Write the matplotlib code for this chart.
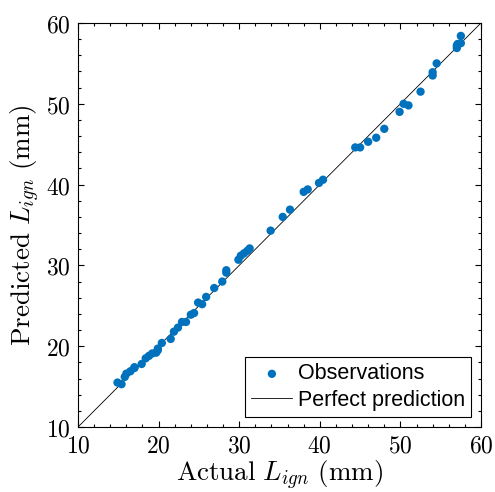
import numpy as np
import matplotlib
matplotlib.use('Agg')
import matplotlib.pyplot as plt
from matplotlib.ticker import MultipleLocator

plt.rcParams['mathtext.fontset'] = 'cm'

# actual vs predicted ignition length (mm)
actual = [14.9, 15.4, 15.8, 16.0, 16.5, 17.0, 17.0, 17.9, 18.4, 18.8, 19.2, 19.7,
          19.9, 19.9, 20.4, 21.5, 21.9, 22.4, 22.9, 23.4, 24.0, 24.4, 24.9, 25.4,
          25.9, 26.9, 27.9, 28.4, 28.4, 29.9, 30.2, 30.6, 31.0, 31.3, 33.9, 35.4,
          36.3, 38.0, 38.5, 39.9, 40.4, 44.4, 45.0, 46.0, 47.0, 48.0, 49.9, 50.4,
          51.0, 52.5, 54.0, 54.0, 54.5, 57.0, 57.0, 57.1, 57.5, 57.5]
predicted = [15.5, 15.3, 16.2, 16.6, 16.9, 17.3, 17.4, 17.8, 18.5, 18.8, 19.1, 19.2,
             19.7, 19.5, 20.4, 20.9, 21.8, 22.3, 23.0, 23.0, 23.9, 24.1, 25.4, 25.2,
             26.1, 27.2, 28.0, 29.1, 29.4, 30.7, 31.2, 31.5, 31.8, 32.1, 34.3, 36.0,
             36.9, 39.1, 39.4, 40.2, 40.6, 44.6, 44.6, 45.3, 45.8, 46.9, 49.0, 50.0,
             49.8, 51.5, 53.5, 53.9, 55.0, 56.9, 57.2, 57.4, 57.5, 58.4]
lims = [10, 60]
ticks = [10, 20, 30, 40, 50, 60]

fig = plt.figure(figsize=(4.95, 4.92), dpi=100)
ax = fig.add_axes([0.1576, 0.1321, 0.8141, 0.8212])

ax.scatter(actual, predicted, s=36, color='#0072BD', edgecolors='none',
           label='Observations', zorder=3)
ax.plot(lims, lims, color='black', linewidth=0.6, label='Perfect prediction', zorder=2)

ax.set_xlim(lims)
ax.set_ylim(lims)
ax.set_xticks(ticks)
ax.set_yticks(ticks)
ax.set_xticklabels(['$%d$' % t for t in ticks])
ax.set_yticklabels(['$%d$' % t for t in ticks])
ax.xaxis.set_minor_locator(MultipleLocator(2))
ax.yaxis.set_minor_locator(MultipleLocator(2))
ax.tick_params(which='both', direction='in', top=True, right=True, width=0.8,
               labelsize=17, pad=5)
ax.tick_params(which='major', length=4)
ax.tick_params(which='minor', length=2.2)
for sp in ax.spines.values():
    sp.set_linewidth(0.8)

ax.set_xlabel(r'$\mathrm{Actual}\ L_{ign}\ \mathrm{(mm)}$', fontsize=19.5, labelpad=1)
ax.set_ylabel(r'$\mathrm{Predicted}\ L_{ign}\ \mathrm{(mm)}$', fontsize=19.5, labelpad=3)

leg = ax.legend(loc='lower right', prop={'family': 'Liberation Sans', 'size': 15.5},
                frameon=True, fancybox=False, framealpha=1, edgecolor='black',
                borderpad=0.3, labelspacing=0.25, handlelength=1.9,
                handletextpad=0.25, borderaxespad=0.45)
leg.get_frame().set_linewidth(0.8)

fig.savefig('out.png', dpi=100)
